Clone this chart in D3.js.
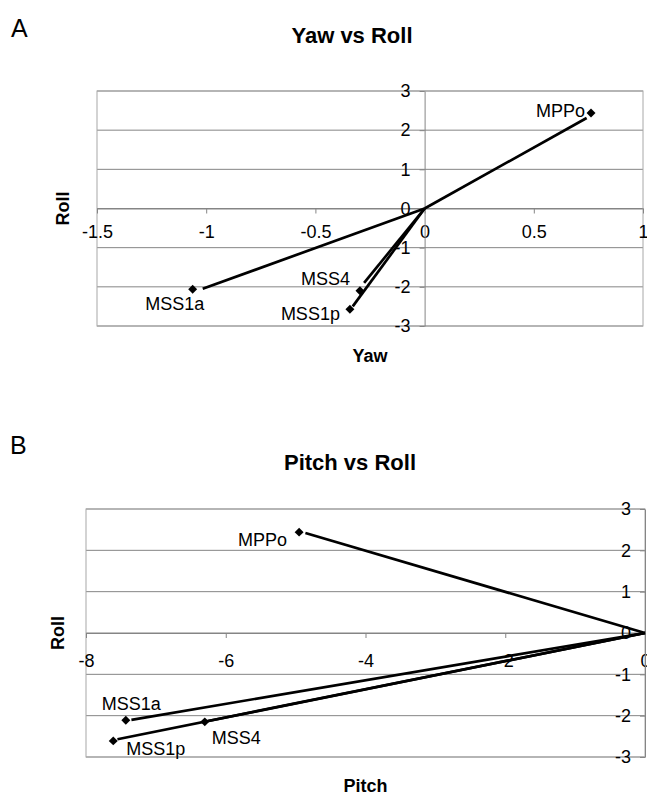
<!DOCTYPE html>
<html>
<head>
<meta charset="utf-8">
<script src="https://cdn.jsdelivr.net/npm/d3@7"></script>
<style>
  body { margin: 0; background: #fff; }
  text { font-family: "Liberation Sans", Arial, sans-serif; fill: #000; }
</style>
</head>
<body>
<div id="chart"></div>
<script>
// data
var names = ["MPPo", "MSS1a", "MSS4", "MSS1p"];
var yaw = [0.762, -1.062, -0.296, -0.342];
var rollA = [2.44, -2.06, -2.10, -2.57];
var pitch = [-4.95, -7.43, -6.30, -7.61];
var rollB = [2.44, -2.11, -2.15, -2.61];

// where each drawn vector stops (they end just short of the markers)
var yawTip = [0.742, -1.016, -0.277, -0.329];
var rollTipA = [2.31, -2.05, -1.90, -2.50];
var pitchTip = [-4.86, -7.35, -6.25, -7.55];
var rollTipB = [2.42, -2.10, -2.13, -2.57];

var yawTicks = [-1.5, -1, -0.5, 0, 0.5, 1];
var pitchTicks = [-8, -6, -4, -2, 0];
var rollTicks = [-3, -2, -1, 0, 1, 2, 3];

var svg = d3.select("#chart").append("svg")
    .attr("width", 647)
    .attr("height", 795);

svg.append("rect").attr("width", 647).attr("height", 795).attr("fill", "#fff");

function drawChart(opt) {
    var x = d3.scaleLinear().domain(opt.xDomain).range(opt.xRange);
    var y = d3.scaleLinear().domain([-3, 3]).range(opt.yRange);
    var g = svg.append("g");

    // panel letter and title
    g.append("text")
        .attr("x", opt.letterPos[0]).attr("y", opt.letterPos[1])
        .style("font-size", "25px")
        .text(opt.letter);

    g.append("text")
        .attr("x", opt.titlePos[0]).attr("y", opt.titlePos[1])
        .attr("text-anchor", "middle")
        .style("font-size", "22px")
        .style("font-weight", "bold")
        .text(opt.title);

    // gridlines
    g.selectAll(".grid")
        .data(rollTicks)
        .enter()
        .append("line")
        .attr("x1", opt.xRange[0]).attr("x2", opt.xRange[1])
        .attr("y1", function (d) { return y(d); })
        .attr("y2", function (d) { return y(d); })
        .attr("stroke", "#858585")
        .attr("stroke-width", 1);

    // plot border
    g.append("rect")
        .attr("x", opt.xRange[0]).attr("y", opt.yRange[1])
        .attr("width", opt.xRange[1] - opt.xRange[0])
        .attr("height", opt.yRange[0] - opt.yRange[1])
        .attr("fill", "none")
        .attr("stroke", "#a8a8a8")
        .attr("stroke-width", 1);

    // axes crossing at zero
    var xAxis = g.append("g")
        .attr("transform", "translate(0," + y(0) + ")")
        .call(d3.axisBottom(x).tickValues(opt.xTicks).tickSize(5).tickSizeOuter(0)
            .tickPadding(opt.xPad).tickFormat(function (d) { return String(d); }));

    var yAxis = g.append("g")
        .attr("transform", "translate(" + x(0) + ",0)")
        .call(d3.axisLeft(y).tickValues(rollTicks).tickSize(5).tickSizeOuter(0)
            .tickPadding(9).tickFormat(function (d) { return String(d); }));

    [xAxis, yAxis].forEach(function (ax) {
        ax.select(".domain").attr("stroke", "#858585");
        ax.selectAll(".tick line").attr("stroke", "#858585");
        ax.selectAll(".tick text")
            .style("font-family", "'Liberation Sans', Arial, sans-serif")
            .style("font-size", "18px")
            .attr("fill", "#000");
    });

    // axis titles
    g.append("text")
        .attr("x", (opt.xRange[0] + opt.xRange[1]) / 2)
        .attr("y", opt.xTitleY)
        .attr("text-anchor", "middle")
        .style("font-size", "18px")
        .style("font-weight", "bold")
        .text(opt.xTitle);

    g.append("text")
        .attr("transform", "translate(" + opt.yTitleX + "," + ((opt.yRange[0] + opt.yRange[1]) / 2) + ") rotate(-90)")
        .attr("text-anchor", "middle")
        .attr("dy", "0.35em")
        .style("font-size", "18px")
        .style("font-weight", "bold")
        .text("Roll");

    // vectors from the origin
    g.selectAll(".vec")
        .data(names)
        .enter()
        .append("line")
        .attr("x1", x(0)).attr("y1", y(0))
        .attr("x2", function (d, i) { return x(opt.xTip[i]); })
        .attr("y2", function (d, i) { return y(opt.yTip[i]); })
        .attr("stroke", "#000")
        .attr("stroke-width", 2.7);

    // diamond markers
    g.selectAll(".pt")
        .data(names)
        .enter()
        .append("path")
        .attr("d", d3.symbol().type(d3.symbolSquare).size(40))
        .attr("transform", function (d, i) {
            return "translate(" + x(opt.xs[i]) + "," + y(opt.ys[i]) + ") rotate(45)";
        })
        .attr("fill", "#000");

    // point labels
    g.selectAll(".lbl")
        .data(names)
        .enter()
        .append("text")
        .attr("x", function (d, i) { return x(opt.xs[i]) + opt.labelPlace[i][0]; })
        .attr("y", function (d, i) { return y(opt.ys[i]) + opt.labelPlace[i][1]; })
        .attr("text-anchor", function (d, i) { return opt.labelPlace[i][2]; })
        .style("font-size", "18px")
        .text(function (d) { return d; });
}

drawChart({
    letter: "A", letterPos: [11, 37],
    title: "Yaw vs Roll", titlePos: [352, 43],
    xDomain: [-1.5, 1], xRange: [97, 643], yRange: [326, 91],
    xTicks: yawTicks, xPad: 12,
    xTitle: "Yaw", xTitleY: 362, yTitleX: 63,
    xs: yaw, ys: rollA, xTip: yawTip, yTip: rollTipA,
    labelPlace: [[-6, 4, "end"], [-18, 21, "middle"], [-10, -6, "end"], [-10, 11, "end"]]
});

drawChart({
    letter: "B", letterPos: [10, 454],
    title: "Pitch vs Roll", titlePos: [350, 470],
    xDomain: [-8, 0], xRange: [86, 645], yRange: [757, 509],
    xTicks: pitchTicks, xPad: 16,
    xTitle: "Pitch", xTitleY: 792, yTitleX: 58,
    xs: pitch, ys: rollB, xTip: pitchTip, yTip: rollTipB,
    labelPlace: [[-12, 14, "end"], [-24, -10, "start"], [7, 22, "start"], [13, 14, "start"]]
});
</script>
</body>
</html>
